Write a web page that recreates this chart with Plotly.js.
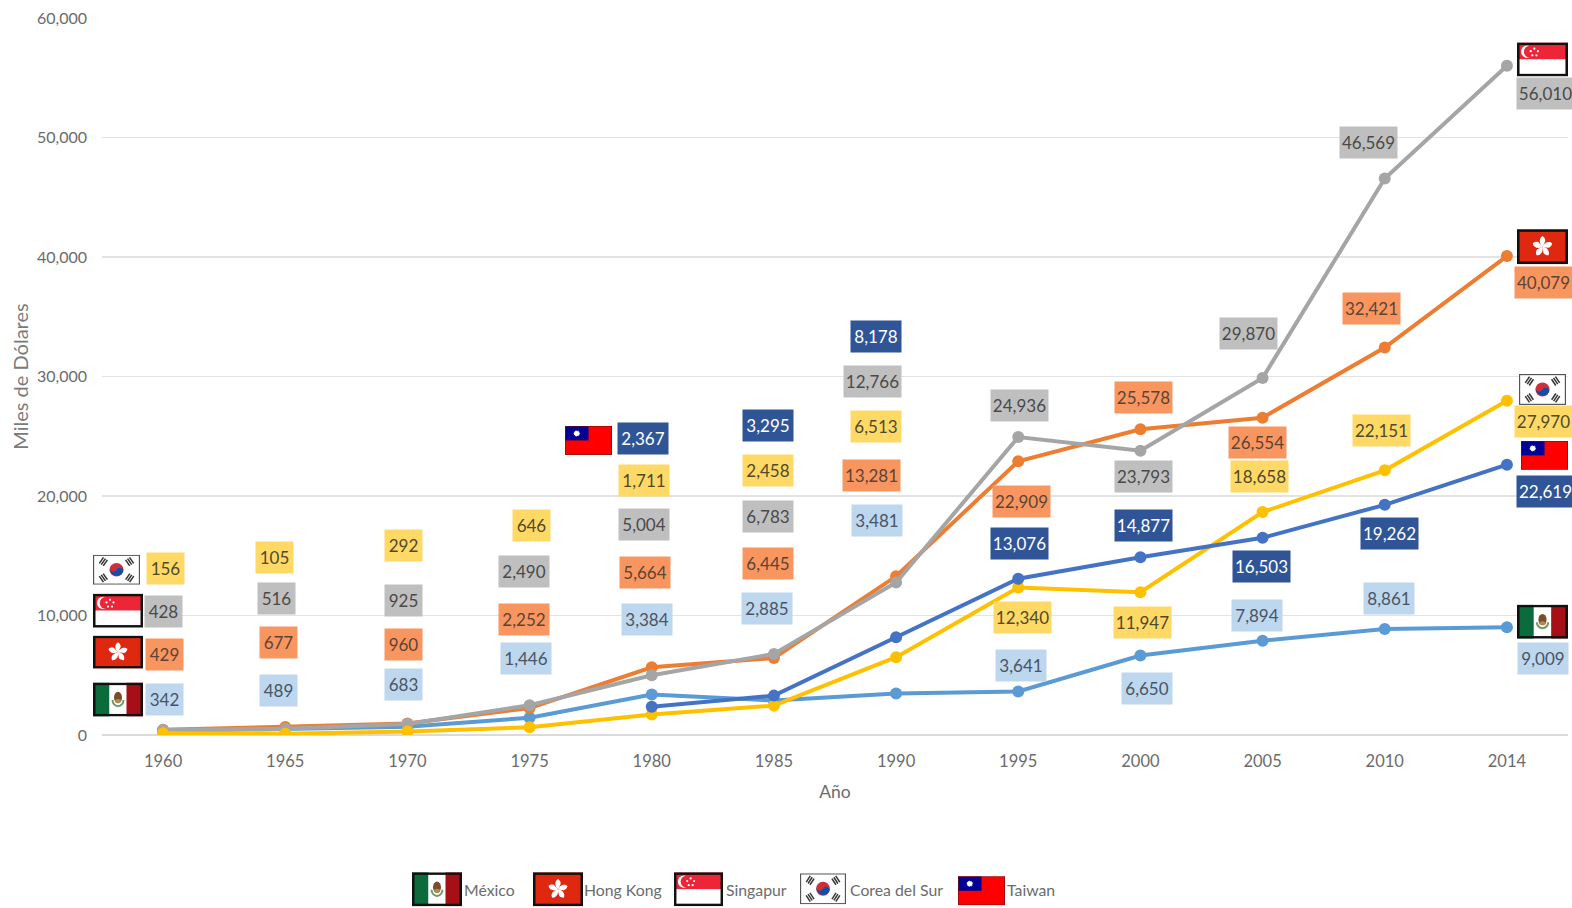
<!DOCTYPE html>
<html><head><meta charset="utf-8">
<script src="https://cdn.plot.ly/plotly-3.0.1.min.js"></script>
<style>html,body{margin:0;padding:0;background:#fff;overflow:hidden}#c{width:1572px;height:908px}</style>
</head><body><div id="c"></div>
<script>
const years = ["1960","1965","1970","1975","1980","1985","1990","1995","2000","2005","2010","2014"];
const mexico = [342,489,683,1446,3384,2885,3481,3641,6650,7894,8861,9009];
const hongKong = [429,677,960,2252,5664,6445,13281,22909,25578,26554,32421,40079];
const singapur = [428,516,925,2490,5004,6783,12766,24936,23793,29870,46569,56010];
const corea = [156,105,292,646,1711,2458,6513,12340,11947,18658,22151,27970];
const taiwan = [null,null,null,null,2367,3295,8178,13076,14877,16503,19262,22619];

// Page geometry of the plot area
const L=102,R=1568,T=17.5,B=735.5,W=1572,H=908;
const px=x=>(x-L)/(R-L), py=y=>1-(y-T)/(B-T);

// Hand placement of the value boxes (page pixels)
const posMexico=[[164,700],[278,691],[403,685],[526,659],[647,620],[767,609],[877,521],[1021,666],[1147,689],[1257,616],[1389,599],[1543,659]];
const posHK=[[164,655],[278,643],[403,645],[524,620],[645,573],[768,564],[871,476],[1021,502],[1143,398],[1257,443],[1371,308],[1543,282]];
const posSing=[[163,612],[276,599],[403,601],[524,572],[644,525],[768,517],[872,382],[1020,406],[1143,477],[1248,333],[1368,142],[1545,93]];
const posCorea=[[165,569],[274,558],[403,546],[531,526],[644,481],[768,471],[876,427],[1022,618],[1142,623],[1259,477],[1381,431],[1543,422]];
const posTaiwan=[null,null,null,null,[643,439],[768,426],[876,336],[1019,544],[1143,526],[1261,567],[1389,534],[1545,492]];

const series=[
 {name:"México",v:mexico,line:"#5B9BD5",box:"#BDD7EE",txt:"#4A5464",pos:posMexico},
 {name:"Hong Kong",v:hongKong,line:"#ED7D31",box:"#F9965F",txt:"#5C4436",pos:posHK},
 {name:"Singapur",v:singapur,line:"#A5A5A5",box:"#BFBFBF",txt:"#4A4A4A",pos:posSing},
 {name:"Corea del Sur",v:corea,line:"#FFC000",box:"#FFD966",txt:"#50492A",pos:posCorea},
 {name:"Taiwan",v:taiwan,line:"#4472C4",box:"#2F5597",txt:"#FFFFFF",pos:posTaiwan}
];
const FONT='Lato, "Open Sans", sans-serif';

const traces=series.map(s=>({type:"scatter",mode:"lines+markers",name:s.name,x:years,y:s.v,
  line:{color:s.line,width:4},marker:{color:s.line,size:12},connectgaps:false,hoverinfo:"skip"}));

const annotations=[];
series.forEach(s=>s.v.forEach((val,i)=>{
  if(val===null)return;
  const t=val.toLocaleString("en-US");
  const w=t.length<=3?37:(t.length<=5?50:57);
  annotations.push({xref:"paper",yref:"paper",x:px(s.pos[i][0]),y:py(s.pos[i][1]),xanchor:"center",yanchor:"middle",
    text:t,showarrow:false,width:w,height:31,bgcolor:s.box,borderpad:0,align:"center",valign:"middle",
    font:{family:FONT,size:17,color:s.txt}});
}));

// Flags
const border=(c,w)=>`<rect x="${w/2}" y="${w/2}" width="${100-w}" height="${66-w}" fill="none" stroke="${c}" stroke-width="${w}"/>`;
function svg(body){return "data:image/svg+xml;charset=utf-8,"+encodeURIComponent(`<svg xmlns="http://www.w3.org/2000/svg" viewBox="0 0 100 66" preserveAspectRatio="none" width="300" height="198">${body}</svg>`);}
const flagMX=svg(`<rect width="33" height="66" fill="#0B6B3A"/><rect x="33" width="34" height="66" fill="#fff"/><rect x="67" width="33" height="66" fill="#A50F15"/><path d="M39,34 A11,12 0 0 0 61,34" fill="none" stroke="#6F9A68" stroke-width="4"/><ellipse cx="50" cy="29" rx="8" ry="11" fill="#7A4E2A"/><ellipse cx="50" cy="36" rx="6" ry="4" fill="#B08A50"/>`+border("#111",5));
const petals=[0,72,144,216,288].map(a=>`<path d="M50,33 C43,27 43,17 50,13 C55,16 57,22 54,25 C53,28 52,30 50,33 Z" fill="#fff" transform="rotate(${a} 50 33)"/>`).join("");
const flagHK=svg(`<rect width="100" height="66" fill="#DE2910"/>${petals}`+border("#111",5));
const stars=[[34,12],[41,17],[38,25],[30,25],[27,17]].map(p=>`<circle cx="${p[0]}" cy="${p[1]}" r="2.2" fill="#fff"/>`).join("");
const flagSG=svg(`<rect width="100" height="33" fill="#EE2536"/><rect y="33" width="100" height="33" fill="#fff"/><circle cx="20" cy="18" r="12" fill="#fff"/><circle cx="25" cy="18" r="11.5" fill="#EE2536"/>${stars}`+border("#111",5));
const trig=(cx,cy,a)=>[0,1,2].map(i=>`<rect x="${cx-8}" y="${cy-6.5+i*5}" width="16" height="3.2" fill="#333" transform="rotate(${a} ${cx} ${cy})"/>`).join("");
const flagKR=svg(`<rect width="100" height="66" fill="#fff"/>${trig(22,15,-56)}${trig(78,15,56)}${trig(22,51,56)}${trig(78,51,-56)}<circle cx="50" cy="33" r="15" fill="#CD2E3A"/><path d="M36,28 A15,15 0 0 0 64,38 A7.5,7.5 0 0 0 50,33 A7.5,7.5 0 0 1 36,28 Z" fill="#0F4FA8"/>`+border("#555",2.5));
const rays=Array.from({length:12},(_,i)=>`<path d="M25,9 L27.5,17 L22.5,17 Z" fill="#fff" transform="rotate(${i*30} 25 17)"/>`).join("");
const flagTW=svg(`<rect width="100" height="66" fill="#FE0000"/><rect width="50" height="33" fill="#000095"/>${rays}<circle cx="25" cy="17" r="5.5" fill="#fff"/>`+border("#7a1010",1.5));

const images=[];
function flag(src,x0,y0,x1,y1){images.push({source:src,xref:"paper",yref:"paper",x:px(x0),y:py(y0),sizex:(x1-x0)/(R-L),sizey:(y1-y0)/(B-T),xanchor:"left",yanchor:"top",sizing:"stretch",layer:"above"});}
flag(flagKR,93,555,140,585); flag(flagSG,93,594,143,628); flag(flagHK,93,636,143,669); flag(flagMX,93,683,143,717);
flag(flagTW,565,426,612,455);
flag(flagSG,1517,42,1568,76); flag(flagHK,1517,229,1568,264); flag(flagKR,1519,374,1566,405); flag(flagTW,1521,441,1568,470); flag(flagMX,1517,605,1568,639);
// Legend row
flag(flagMX,412,873,462,907); flag(flagHK,533,873,583,907); flag(flagSG,674,873,723,907); flag(flagKR,800,874,846,905); flag(flagTW,958,877,1005,906);
const legendX=[463,583,725,849,1006];
series.forEach((s,i)=>annotations.push({xref:"paper",yref:"paper",x:px(legendX[i]),y:py(890),xanchor:"left",yanchor:"middle",text:s.name,showarrow:false,borderpad:0,font:{family:FONT,size:15.8,color:"#6B6B6B"}}));

const layout={
  width:W,height:H,margin:{l:L,r:W-R,t:T,b:H-B,pad:0},paper_bgcolor:"#fff",plot_bgcolor:"#fff",
  showlegend:false,hovermode:false,font:{family:FONT,color:"#6B6B6B"},
  xaxis:{type:"category",categoryorder:"array",categoryarray:years,range:[-0.5,11.5],showgrid:false,zeroline:false,showline:false,ticks:"",
    tickfont:{size:16.5,color:"#6B6B6B"},ticklabelstandoff:14,title:{text:"Año",font:{size:17.5,color:"#6B6B6B"},standoff:16}},
  yaxis:{range:[0,60000],dtick:10000,tickformat:",d",showgrid:true,gridcolor:"#E3E3E3",gridwidth:1.2,zeroline:true,zerolinecolor:"#DADADA",zerolinewidth:1.2,showline:false,ticks:"",
    tickfont:{size:16,color:"#6B6B6B"},ticklabelstandoff:14,title:{text:"Miles de Dólares",font:{size:20,color:"#7A7A7A"},standoff:2}},
  annotations,images
};
Plotly.newPlot("c",traces,layout,{displayModeBar:false,staticPlot:true});
</script></body></html>
